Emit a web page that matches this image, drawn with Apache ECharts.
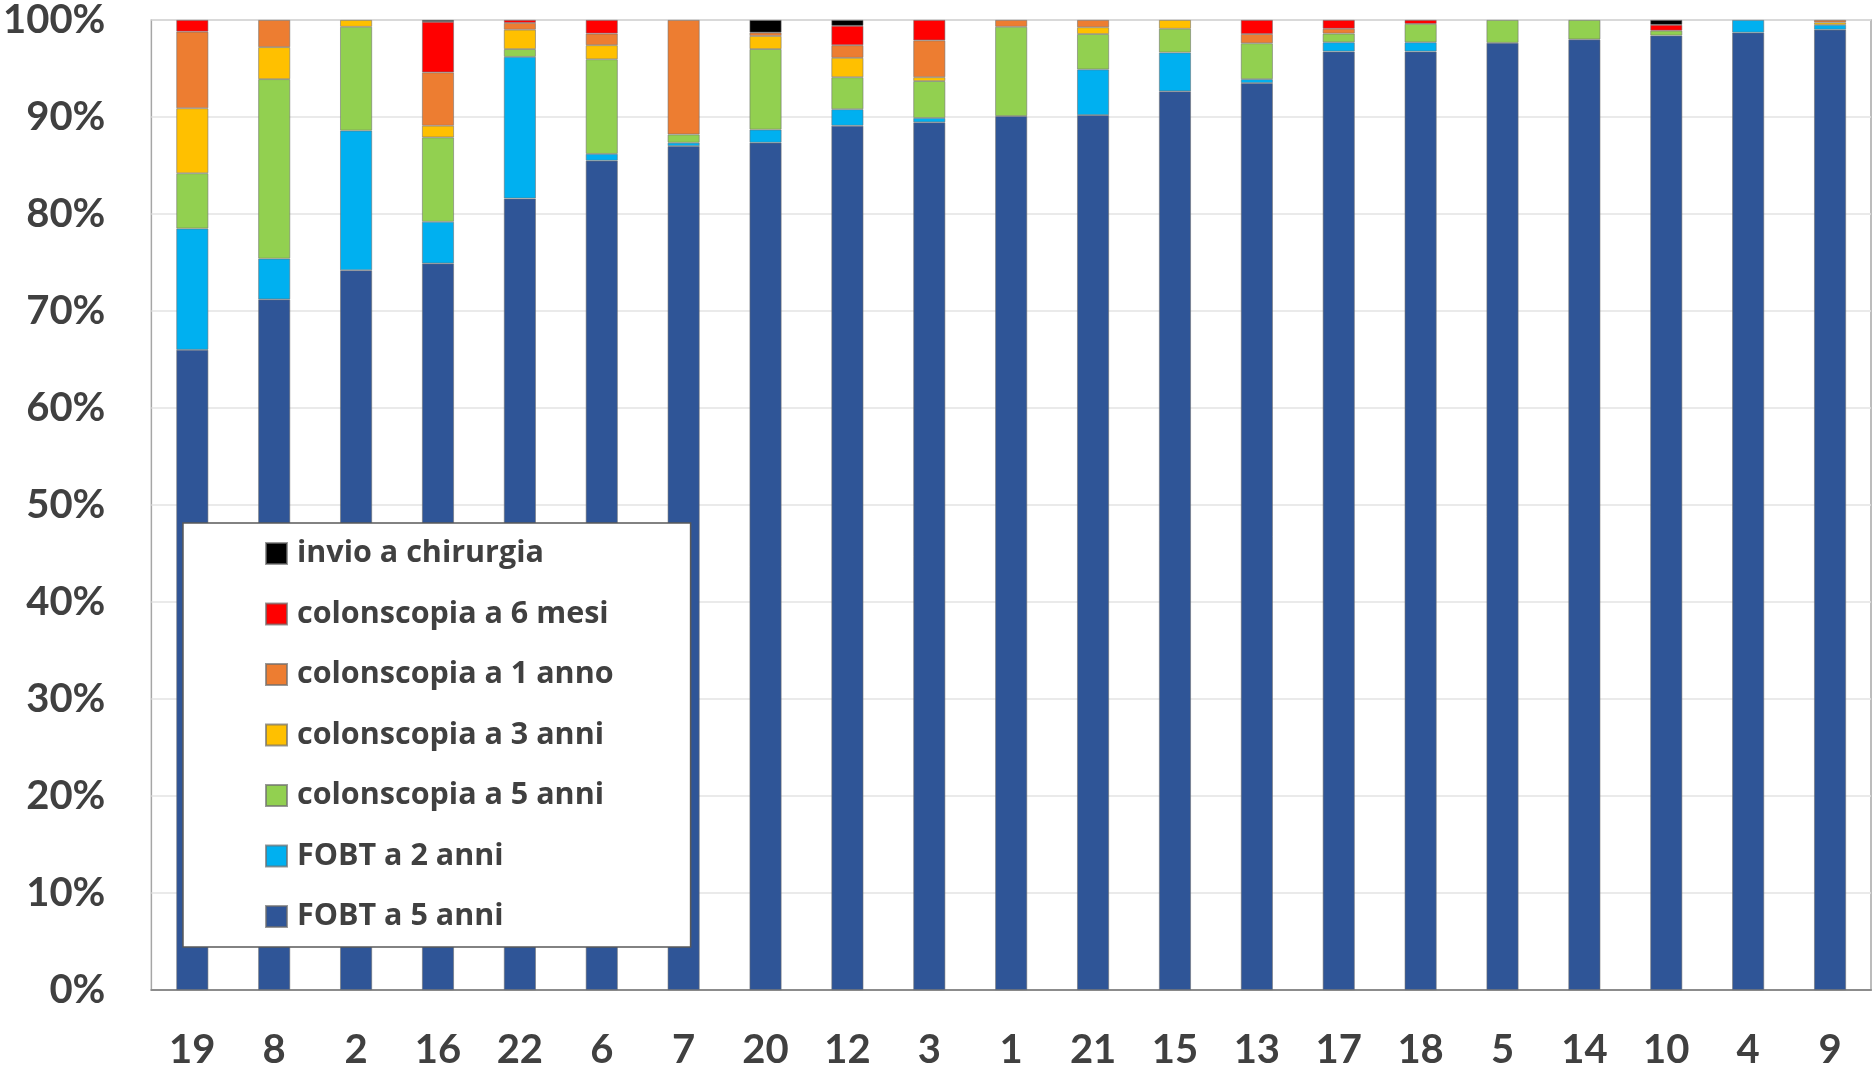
<!DOCTYPE html>
<html>
<head>
<meta charset="utf-8">
<script src="https://cdn.jsdelivr.net/npm/echarts@6/dist/echarts.min.js"></script>
<style>
  html, body { margin: 0; padding: 0; background: #fff; }
  #chart { width: 1874px; height: 1081px; }
</style>
</head>
<body>
<div id="chart"></div>
<script>
// Centres, ordered by share of "FOBT a 5 anni"
const categories = ['19', '8', '2', '16', '22', '6', '7', '20', '12', '3', '1', '21', '15', '13', '17', '18', '5', '14', '10', '4', '9'];

// Percentage of patients per follow-up recommendation
const fobt5anni   = [66.0, 71.2, 74.2, 74.9, 81.6, 85.5, 87.0, 87.35, 89.1, 89.45, 90.1, 90.2, 92.65, 93.5, 96.75, 96.75, 97.65, 98.0, 98.4, 98.7, 99.0];
const fobt2anni   = [12.5, 4.2, 14.4, 4.3, 14.6, 0.7, 0.35, 1.35, 1.7, 0.45, 0, 4.7, 4.0, 0.4, 0.95, 0.95, 0, 0, 0, 1.3, 0.5];
const colon5anni  = [5.7, 18.5, 10.7, 8.7, 0.8, 9.75, 0.85, 8.3, 3.3, 3.8, 9.2, 3.65, 2.45, 3.7, 0.9, 1.9, 2.35, 2.0, 0.5, 0, 0];
const colon3anni  = [6.7, 3.3, 0.7, 1.2, 2.0, 1.45, 0, 1.35, 2.0, 0.4, 0, 0.7, 0.9, 0, 0, 0, 0, 0, 0, 0, 0.25];
const colon1anno  = [7.9, 2.8, 0, 5.5, 0.7, 1.2, 11.8, 0.35, 1.3, 3.8, 0.7, 0.75, 0, 0.95, 0.5, 0, 0, 0, 0, 0, 0.25];
const colon6mesi  = [1.2, 0, 0, 5.2, 0.3, 1.4, 0, 0, 2.0, 2.1, 0, 0, 0, 1.45, 0.9, 0.4, 0, 0, 0.6, 0, 0];
const chirurgia   = [0, 0, 0, 0.2, 0, 0, 0, 1.3, 0.6, 0, 0, 0, 0, 0, 0, 0, 0, 0, 0.5, 0, 0];

const yTicks = [0, 10, 20, 30, 40, 50, 60, 70, 80, 90, 100];

// Stack order, bottom to top
const stackDefs = [
  { name: 'FOBT a 5 anni',        data: fobt5anni,  color: '#2F5597' },
  { name: 'FOBT a 2 anni',        data: fobt2anni,  color: '#00B0F0' },
  { name: 'colonscopia a 5 anni', data: colon5anni, color: '#92D050' },
  { name: 'colonscopia a 3 anni', data: colon3anni, color: '#FFC000' },
  { name: 'colonscopia a 1 anno', data: colon1anno, color: '#ED7D31' },
  { name: 'colonscopia a 6 mesi', data: colon6mesi, color: '#FF0000' },
  { name: 'invio a chirurgia',    data: chirurgia,  color: '#000000' }
];

const FONT = 'Lato, "Open Sans", sans-serif';
const LEGEND_FONT = '"Open Sans", Lato, sans-serif';
const TEXT = '#404040';

const chart = echarts.init(document.getElementById('chart'), null, { renderer: 'canvas' });

chart.setOption({
  animation: false,
  backgroundColor: '#ffffff',
  grid: { left: 148, right: 3, top: 20, bottom: 91, containLabel: false, show: true, borderColor: '#a6a6a6', borderWidth: 1.5 },
  xAxis: {
    type: 'category',
    data: categories,
    axisTick: { show: false },
    axisLine: { lineStyle: { color: '#8c8c8c', width: 2 } },
    axisLabel: { color: TEXT, fontFamily: FONT, fontWeight: 'bold', fontSize: 40, margin: 40 }
  },
  yAxis: {
    type: 'value',
    min: yTicks[0],
    max: yTicks[yTicks.length - 1],
    interval: yTicks[1] - yTicks[0],
    axisLine: { show: false },
    axisTick: { show: false },
    splitLine: { lineStyle: { color: '#e3e3e3', width: 1.5 } },
    axisLabel: { color: TEXT, fontFamily: FONT, fontWeight: 'bold', fontSize: 40, margin: 46, formatter: '{value}%' }
  },
  legend: {
    orient: 'vertical',
    left: 183,
    top: 523,
    data: stackDefs.map(s => s.name).reverse(),
    icon: 'rect',
    itemWidth: 21,
    itemHeight: 21,
    itemGap: 29.5,
    padding: [15, 77, 15, 82],
    backgroundColor: '#ffffff',
    borderColor: '#595959',
    borderWidth: 1.5,
    textStyle: { color: TEXT, fontFamily: LEGEND_FONT, fontWeight: 'bold', fontSize: 30.5, lineHeight: 30, padding: [0, 0, 0, 5] }
  },
  series: stackDefs.map(s => ({
    name: s.name,
    type: 'bar',
    stack: 'totale',
    barWidth: 32,
    data: s.data.map(v => (v > 0 ? v : '-')),
    itemStyle: { color: s.color, borderColor: 'rgba(110,110,110,0.7)', borderWidth: 0.8 }
  }))
});
</script>
</body>
</html>
